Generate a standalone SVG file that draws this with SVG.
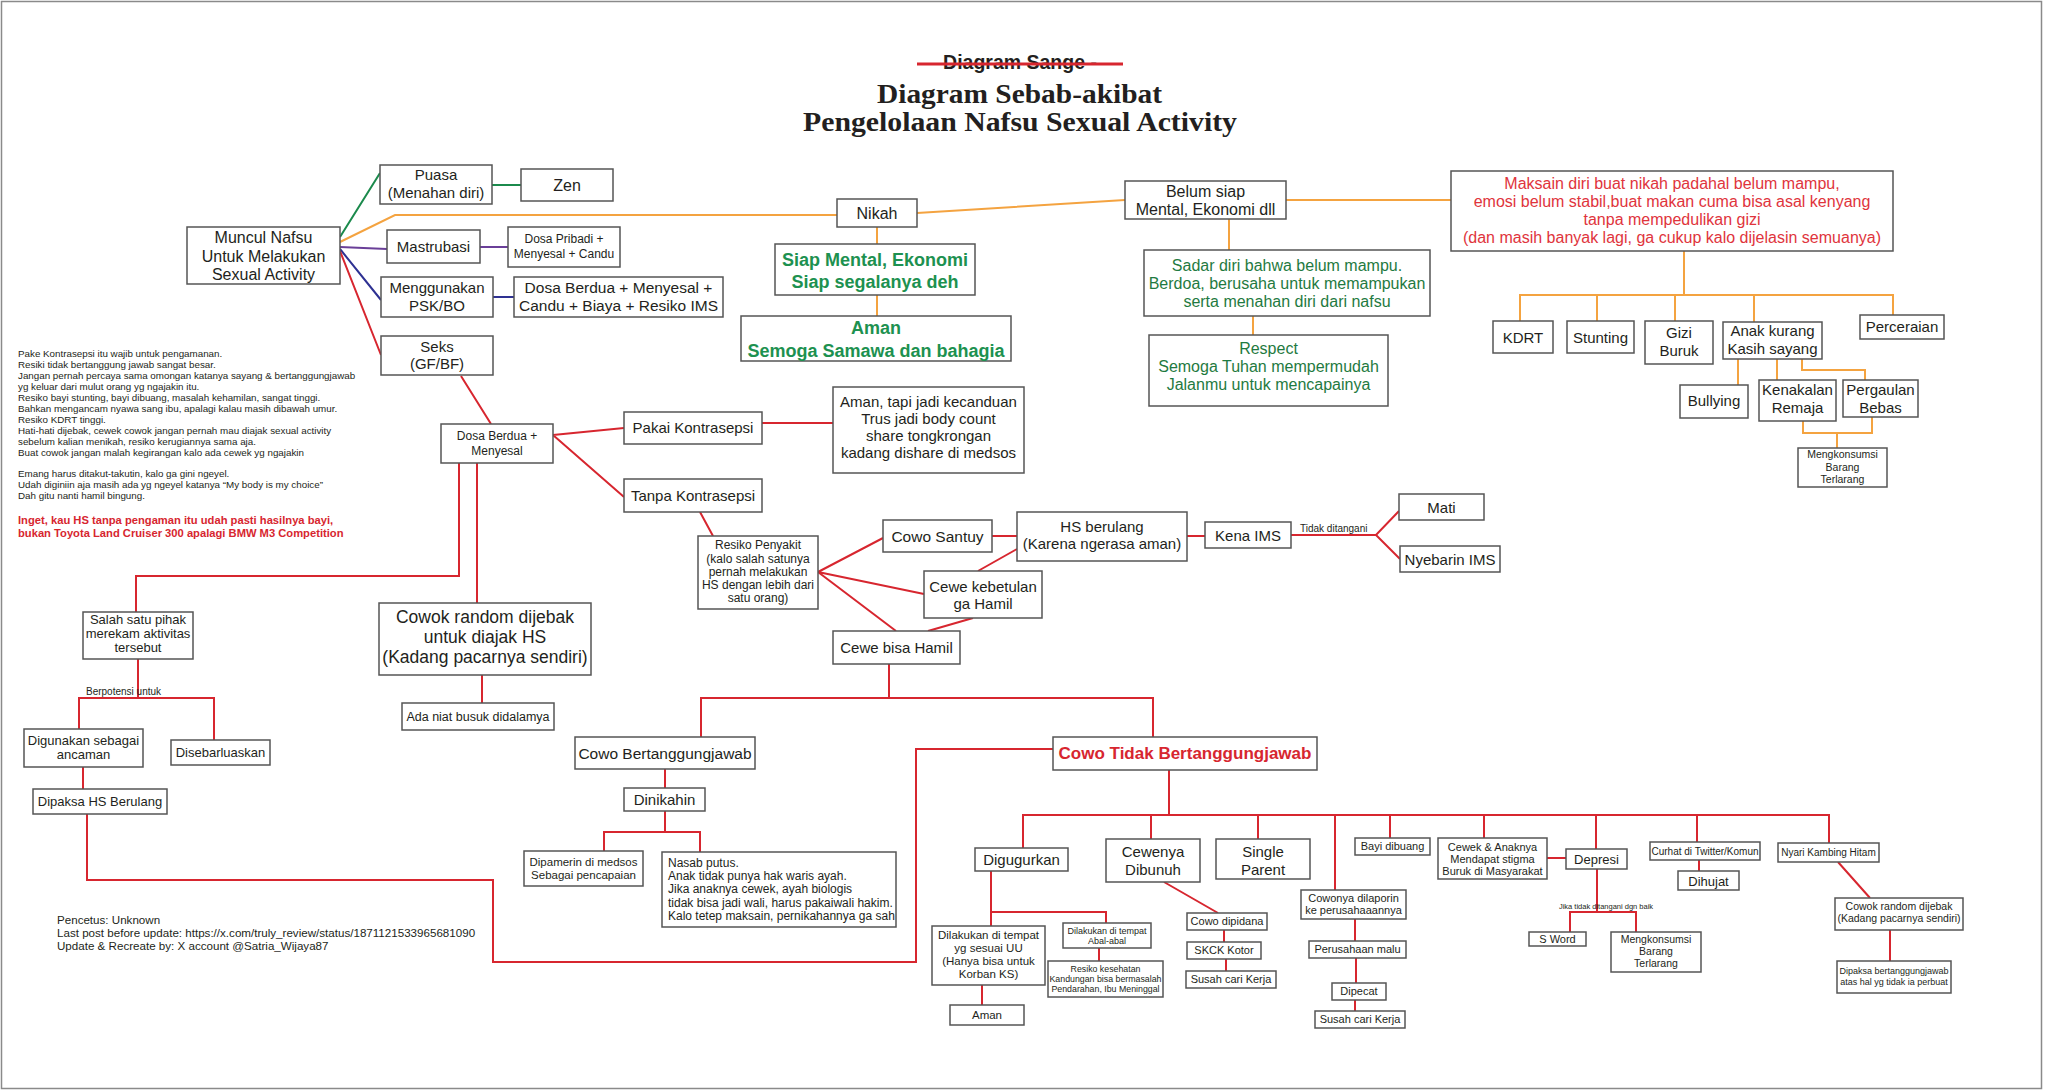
<svg xmlns="http://www.w3.org/2000/svg" width="2048" height="1091" viewBox="0 0 2048 1091">
<style>
text{font-family:"Liberation Sans",Arial,sans-serif;fill:#231f20}
.c{text-anchor:middle}
.b rect,rect.b{fill:#fff;stroke:#555;stroke-width:1.5}
.f16{font-size:16px}.f15{font-size:15px}.f155{font-size:15.5px}.f175{font-size:17.5px}
.f13{font-size:13px}.f125{font-size:12.5px}.f12{font-size:12px}.f115{font-size:11.5px}.f11{font-size:11px}
.f105{font-size:10.5px}.f10{font-size:10px}.f9{font-size:9px}.f88{font-size:8.8px}.f75{font-size:7.5px}
.gb{font-weight:bold;fill:#1d9150;font-size:18px}
.gr{fill:#1f7a41;font-size:16px}
.rd{fill:#e0343c;font-size:16px}
.rb{font-weight:bold;fill:#d7262f}
.con path{fill:none;stroke-width:2}
.o{stroke:#f4a340}.r{stroke:#d7262f}.g{stroke:#1b8a4c}.p{stroke:#6a3f98}.n{stroke:#2e3192}
</style>
<rect x="1.5" y="1.5" width="2040" height="1087" fill="#fff" stroke="#8a8a8a" stroke-width="1.5"/>

<g id="title">
<text class="c" x="1020" y="69" style="font-weight:bold;font-size:19.5px">Diagram Sange -</text>
<line x1="917" y1="64" x2="1123" y2="64" stroke="#d7262f" stroke-width="3"/>
<text x="877" y="103" textLength="285" lengthAdjust="spacingAndGlyphs" style="font-family:'Liberation Serif',serif;font-weight:bold;font-size:27px">Diagram Sebab-akibat</text>
<text x="803" y="131" textLength="434" lengthAdjust="spacingAndGlyphs" style="font-family:'Liberation Serif',serif;font-weight:bold;font-size:27px">Pengelolaan Nafsu Sexual Activity</text>
</g>

<g class="con" id="connectors">
<path class="g" d="M340,237 L380,173 M492,185 H521"/>
<path class="o" d="M340,242 L395,215 H837 M917,213 L1125,200 M877,227 V244 M877,295 V316 M1229,219 V250 M1253,316 V335 M1286,200 H1451 M1684,251 V295 M1520,321 V295 H1893 V315 M1597,295 V321 M1675,295 V321 M1754,295 V322 M1738,359 V385 M1777,359 V380 M1802,359 V370 H1865 V380 M1803,421 V433 H1872 V417 M1837,433 V448"/>
<path class="p" d="M340,247 L387,249 M480,247 H508"/>
<path class="n" d="M340,249 L381,300 M493,297 H514"/>
<path class="r" d="M340,251 L381,355 M461,376 L491,424 M553,435 L624,428 M762,423 H833 M553,435 L624,497 M700,512 L713,536 M818,572 L883,538 M818,572 L924,594 M818,572 L896,631 M992,536 H1017 M978,571 L1017,549 M973,618 L928,631 M1187,536 H1205 M1291,535 H1376 L1399,511 M1376,535 L1400,559 M889,664 V698 M701,737 V698 H1153 V737 M665,769 V788 M665,811 V832 M604,851 V832 H700 V852 M459,463 V576 H136 V612 M477,463 V603 M482,675 V703 M138,659 V698 M79,729 V698 H214 V740 M83,767 V789 M87,814 V880 H493 V962 H916 V749 H1053 M1169,770 V815 M1023,848 V815 H1829 V843 M1151,815 V839 M1258,815 V839 M1335,815 V890 M1390,815 V838 M1484,815 V838 M1596,815 V849 M1697,815 V842 M991,871 V926 M991,912 H1106 V923 M982,985 V1005 M1099,948 V961 M1164,882 L1218,913 M1224,930 V942 M1226,959 V971 M1355,919 V941 M1356,958 V983 M1355,1000 V1011 M1547,858 H1566 M1597,869 V912 M1570,932 V912 H1636 V932 M1699,860 V871 M1838,862 L1870,898 M1890,930 V961"/>
</g>

<g id="labels">
<text class="f10" x="1300" y="532">Tidak ditangani</text>
<text class="f10" x="86" y="695">Berpotensi untuk</text>
<text class="f75 c" x="1606" y="909">Jika tidak ditangani dgn baik</text>
</g>

<g id="notes" style="font-size:9.8px">
<text x="18" y="357"><tspan x="18">Pake Kontrasepsi itu wajib untuk pengamanan.</tspan><tspan x="18" dy="11">Resiki tidak bertanggung jawab sangat besar.</tspan><tspan x="18" dy="11">Jangan pernah percaya sama omongan katanya sayang &amp; bertanggungjawab</tspan><tspan x="18" dy="11">yg keluar dari mulut orang yg ngajakin itu.</tspan><tspan x="18" dy="11">Resiko bayi stunting, bayi dibuang, masalah kehamilan, sangat tinggi.</tspan><tspan x="18" dy="11">Bahkan mengancam nyawa sang ibu, apalagi kalau masih dibawah umur.</tspan><tspan x="18" dy="11">Resiko KDRT tinggi.</tspan><tspan x="18" dy="11">Hati-hati dijebak, cewek cowok jangan pernah mau diajak sexual activity</tspan><tspan x="18" dy="11">sebelum kalian menikah, resiko kerugiannya sama aja.</tspan><tspan x="18" dy="11">Buat cowok jangan malah kegirangan kalo ada cewek yg ngajakin</tspan><tspan x="18" dy="21">Emang harus ditakut-takutin, kalo ga gini ngeyel.</tspan><tspan x="18" dy="11">Udah diginiin aja masih ada yg ngeyel katanya “My body is my choice”</tspan><tspan x="18" dy="11">Dah gitu nanti hamil bingung.</tspan></text>
<text class="rb" x="18" y="524" style="font-size:11.2px"><tspan x="18">Inget, kau HS tanpa pengaman itu udah pasti hasilnya bayi,</tspan><tspan x="18" dy="13">bukan Toyota Land Cruiser 300 apalagi BMW M3 Competition</tspan></text>
</g>

<g id="footer" style="font-size:11.6px">
<text x="57" y="924">Pencetus: Unknown</text>
<text x="57" y="937">Last post before update: https://x.com/truly_review/status/1871121533965681090</text>
<text x="57" y="950">Update &amp; Recreate by: X account @Satria_Wijaya87</text>
</g>

<g id="muncul" class="b"><rect x="187" y="227" width="153" height="57"/><text class="c f16" x="263.5" y="243">Muncul Nafsu<tspan x="263.5" y="262">Untuk Melakukan</tspan><tspan x="263.5" y="280">Sexual Activity</tspan></text></g>
<g id="puasa" class="b"><rect x="380" y="165" width="112" height="39"/><text class="c f15" x="436" y="180">Puasa<tspan x="436" y="198">(Menahan diri)</tspan></text></g>
<g id="zen" class="b"><rect x="521" y="169" width="92" height="32"/><text class="c f16" x="567" y="191">Zen</text></g>
<g id="mastrubasi" class="b"><rect x="387" y="230" width="93" height="33"/><text class="c f15" x="433.5" y="252">Mastrubasi</text></g>
<g id="dosa-pribadi" class="b"><rect x="508" y="227" width="112" height="40"/><text class="c f12" x="564" y="243">Dosa Pribadi +<tspan x="564" y="258">Menyesal + Candu</tspan></text></g>
<g id="psk" class="b"><rect x="381" y="277" width="112" height="40"/><text class="c f15" x="437" y="293">Menggunakan<tspan x="437" y="311">PSK/BO</tspan></text></g>
<g id="dosa-berdua-ims" class="b"><rect x="514" y="277" width="209" height="40"/><text class="c f155" x="618.5" y="293">Dosa Berdua + Menyesal +<tspan x="618.5" y="311">Candu + Biaya + Resiko IMS</tspan></text></g>
<g id="seks" class="b"><rect x="381" y="336" width="112" height="39"/><text class="c f15" x="437" y="352">Seks<tspan x="437" y="369">(GF/BF)</tspan></text></g>

<g id="nikah" class="b"><rect x="837" y="199" width="80" height="28"/><text class="c f16" x="877" y="219">Nikah</text></g>
<g id="siap" class="b"><rect x="775" y="244" width="200" height="51"/><text class="c gb" x="875" y="266">Siap Mental, Ekonomi<tspan x="875" y="288">Siap segalanya deh</tspan></text></g>
<g id="aman-samawa" class="b"><rect x="741" y="316" width="270" height="45"/><text class="c gb" x="876" y="334">Aman<tspan x="876" y="357">Semoga Samawa dan bahagia</tspan></text></g>
<g id="belum-siap" class="b"><rect x="1125" y="181" width="161" height="38"/><text class="c f16" x="1205.5" y="197">Belum siap<tspan x="1205.5" y="215">Mental, Ekonomi dll</tspan></text></g>
<g id="sadar" class="b"><rect x="1144" y="250" width="286" height="66"/><text class="c gr" x="1287" y="271">Sadar diri bahwa belum mampu.<tspan x="1287" y="289">Berdoa, berusaha untuk memampukan</tspan><tspan x="1287" y="307">serta menahan diri dari nafsu</tspan></text></g>
<g id="respect" class="b"><rect x="1149" y="335" width="239" height="71"/><text class="c gr" x="1268.5" y="354">Respect<tspan x="1268.5" y="372">Semoga Tuhan mempermudah</tspan><tspan x="1268.5" y="390">Jalanmu untuk mencapainya</tspan></text></g>
<g id="maksain" class="b"><rect x="1451" y="171" width="442" height="80"/><text class="c rd" x="1672" y="189">Maksain diri buat nikah padahal belum mampu,<tspan x="1672" y="207">emosi belum stabil,buat makan cuma bisa asal kenyang</tspan><tspan x="1672" y="225">tanpa mempedulikan gizi</tspan><tspan x="1672" y="243">(dan masih banyak lagi, ga cukup kalo dijelasin semuanya)</tspan></text></g>
<g id="kdrt" class="b"><rect x="1493" y="321" width="60" height="32"/><text class="c f15" x="1523" y="343">KDRT</text></g>
<g id="stunting" class="b"><rect x="1567" y="321" width="67" height="32"/><text class="c f15" x="1600.5" y="343">Stunting</text></g>
<g id="gizi" class="b"><rect x="1645" y="321" width="68" height="43"/><text class="c f15" x="1679" y="338">Gizi<tspan x="1679" y="356">Buruk</tspan></text></g>
<g id="anak" class="b"><rect x="1723" y="322" width="99" height="37"/><text class="c f15" x="1772.5" y="336">Anak kurang<tspan x="1772.5" y="354">Kasih sayang</tspan></text></g>
<g id="perceraian" class="b"><rect x="1860" y="315" width="84" height="24"/><text class="c f15" x="1902" y="332">Perceraian</text></g>
<g id="bullying" class="b"><rect x="1680" y="385" width="68" height="33"/><text class="c f15" x="1714" y="406">Bullying</text></g>
<g id="kenakalan" class="b"><rect x="1759" y="380" width="77" height="41"/><text class="c f15" x="1797.5" y="395">Kenakalan<tspan x="1797.5" y="413">Remaja</tspan></text></g>
<g id="pergaulan" class="b"><rect x="1843" y="380" width="75" height="37"/><text class="c f15" x="1880.5" y="395">Pergaulan<tspan x="1880.5" y="413">Bebas</tspan></text></g>
<g id="mengkonsumsi-1" class="b"><rect x="1798" y="448" width="89" height="39"/><text class="c f105" x="1842.5" y="458">Mengkonsumsi<tspan x="1842.5" y="471">Barang</tspan><tspan x="1842.5" y="483">Terlarang</tspan></text></g>

<g id="dosa-berdua" class="b"><rect x="441" y="424" width="112" height="39"/><text class="c f12" x="497" y="440">Dosa Berdua +<tspan x="497" y="455">Menyesal</tspan></text></g>
<g id="pakai" class="b"><rect x="624" y="412" width="138" height="32"/><text class="c f15" x="693" y="433">Pakai Kontrasepsi</text></g>
<g id="aman-tapi" class="b"><rect x="833" y="387" width="191" height="86"/><text class="c f15" x="928.5" y="407">Aman, tapi jadi kecanduan<tspan x="928.5" y="424">Trus jadi body count</tspan><tspan x="928.5" y="441">share tongkrongan</tspan><tspan x="928.5" y="458">kadang dishare di medsos</tspan></text></g>
<g id="tanpa" class="b"><rect x="624" y="479" width="138" height="33"/><text class="c f15" x="693" y="501">Tanpa Kontrasepsi</text></g>
<g id="resiko" class="b"><rect x="698" y="536" width="120" height="73"/><text class="c f12" x="758" y="549">Resiko Penyakit<tspan x="758" y="562.5">(kalo salah satunya</tspan><tspan x="758" y="576">pernah melakukan</tspan><tspan x="758" y="589">HS dengan lebih dari</tspan><tspan x="758" y="602">satu orang)</tspan></text></g>
<g id="santuy" class="b"><rect x="883" y="520" width="109" height="32"/><text class="c f155" x="937.5" y="542">Cowo Santuy</text></g>
<g id="hs-berulang" class="b"><rect x="1017" y="512" width="170" height="49"/><text class="c f15" x="1102" y="532">HS berulang<tspan x="1102" y="549">(Karena ngerasa aman)</tspan></text></g>
<g id="kebetulan" class="b"><rect x="924" y="571" width="118" height="47"/><text class="c f15" x="983" y="592">Cewe kebetulan<tspan x="983" y="609">ga Hamil</tspan></text></g>
<g id="bisa-hamil" class="b"><rect x="833" y="631" width="127" height="33"/><text class="c f15" x="896.5" y="653">Cewe bisa Hamil</text></g>
<g id="kena-ims" class="b"><rect x="1205" y="522" width="86" height="26"/><text class="c f15" x="1248" y="541">Kena IMS</text></g>
<g id="mati" class="b"><rect x="1399" y="494" width="85" height="26"/><text class="c f15" x="1441.5" y="513">Mati</text></g>
<g id="nyebarin" class="b"><rect x="1400" y="546" width="100" height="26"/><text class="c f15" x="1450" y="565">Nyebarin IMS</text></g>

<g id="salah-satu" class="b"><rect x="83" y="612" width="110" height="47"/><text class="c f13" x="138" y="624">Salah satu pihak<tspan x="138" y="638">merekam aktivitas</tspan><tspan x="138" y="652">tersebut</tspan></text></g>
<g id="digunakan" class="b"><rect x="24" y="729" width="119" height="38"/><text class="c f13" x="83.5" y="745">Digunakan sebagai<tspan x="83.5" y="759">ancaman</tspan></text></g>
<g id="disebar" class="b"><rect x="171" y="740" width="99" height="25"/><text class="c f13" x="220.5" y="757">Disebarluaskan</text></g>
<g id="dipaksa-hs" class="b"><rect x="33" y="789" width="134" height="25"/><text class="c f13" x="100" y="806">Dipaksa HS Berulang</text></g>
<g id="cowok-random" class="b"><rect x="379" y="603" width="212" height="72"/><text class="c f175" x="485" y="623">Cowok random dijebak<tspan x="485" y="643">untuk diajak HS</tspan><tspan x="485" y="663">(Kadang pacarnya sendiri)</tspan></text></g>
<g id="ada-niat" class="b"><rect x="402" y="703" width="152" height="27"/><text class="c f125" x="478" y="721">Ada niat busuk didalamya</text></g>

<g id="cowo-btj" class="b"><rect x="575" y="737" width="180" height="32"/><text class="c f155" x="665" y="759">Cowo Bertanggungjawab</text></g>
<g id="dinikahin" class="b"><rect x="624" y="788" width="81" height="23"/><text class="c f15" x="664.5" y="805">Dinikahin</text></g>
<g id="dipamerin" class="b"><rect x="524" y="851" width="119" height="35"/><text class="c f115" x="583.5" y="866">Dipamerin di medsos<tspan x="583.5" y="879">Sebagai pencapaian</tspan></text></g>
<g id="nasab" class="b"><rect x="662" y="852" width="234" height="75"/><text class="f12" x="668" y="867">Nasab putus.<tspan x="668" y="880">Anak tidak punya hak waris ayah.</tspan><tspan x="668" y="893">Jika anaknya cewek, ayah biologis</tspan><tspan x="668" y="907">tidak bisa jadi wali, harus pakaiwali hakim.</tspan><tspan x="668" y="920">Kalo tetep maksain, pernikahannya ga sah</tspan></text></g>

<g id="cowo-tidak" class="b"><rect x="1053" y="737" width="264" height="33"/><text class="c rb" x="1185" y="759" style="font-size:17px">Cowo Tidak Bertanggungjawab</text></g>
<g id="digugurkan" class="b"><rect x="975" y="848" width="93" height="23"/><text class="c f15" x="1021.5" y="865">Digugurkan</text></g>
<g id="cewenya" class="b"><rect x="1106" y="839" width="94" height="43"/><text class="c f15" x="1153" y="857">Cewenya<tspan x="1153" y="875">Dibunuh</tspan></text></g>
<g id="single" class="b"><rect x="1216" y="839" width="94" height="40"/><text class="c f15" x="1263" y="857">Single<tspan x="1263" y="875">Parent</tspan></text></g>
<g id="bayi" class="b"><rect x="1355" y="838" width="75" height="17"/><text class="c f11" x="1392.5" y="850">Bayi dibuang</text></g>
<g id="cowonya" class="b"><rect x="1301" y="890" width="105" height="29"/><text class="c f11" x="1353.5" y="902">Cowonya dilaporin<tspan x="1353.5" y="914">ke perusahaaannya</tspan></text></g>
<g id="cewek-anak" class="b"><rect x="1438" y="838" width="109" height="41"/><text class="c f11" x="1492.5" y="851">Cewek &amp; Anaknya<tspan x="1492.5" y="863">Mendapat stigma</tspan><tspan x="1492.5" y="875">Buruk di Masyarakat</tspan></text></g>
<g id="depresi" class="b"><rect x="1566" y="849" width="61" height="20"/><text class="c f13" x="1596.5" y="864">Depresi</text></g>
<g id="curhat" class="b"><rect x="1650" y="842" width="110" height="18"/><text class="c f10" x="1705" y="855">Curhat di Twitter/Komun</text></g>
<g id="dihujat" class="b"><rect x="1678" y="871" width="61" height="19"/><text class="c f13" x="1708.5" y="886">Dihujat</text></g>
<g id="nyari" class="b"><rect x="1778" y="843" width="101" height="19"/><text class="c f10" x="1828.5" y="856">Nyari Kambing Hitam</text></g>
<g id="cowok-random-2" class="b"><rect x="1835" y="898" width="128" height="32"/><text class="c f105" x="1899" y="910">Cowok random dijebak<tspan x="1899" y="922">(Kadang pacarnya sendiri)</tspan></text></g>
<g id="dipaksa-btj" class="b"><rect x="1837" y="961" width="114" height="32"/><text class="c f9" x="1894" y="974">Dipaksa bertanggungjawab<tspan x="1894" y="985">atas hal yg tidak ia perbuat</tspan></text></g>
<g id="s-word" class="b"><rect x="1529" y="932" width="57" height="14"/><text class="c f11" x="1557.5" y="943">S Word</text></g>
<g id="mengkonsumsi-2" class="b"><rect x="1611" y="932" width="90" height="40"/><text class="c f105" x="1656" y="943">Mengkonsumsi<tspan x="1656" y="955">Barang</tspan><tspan x="1656" y="967">Terlarang</tspan></text></g>
<g id="dilakukan-uu" class="b"><rect x="932" y="926" width="113" height="59"/><text class="c f115" x="988.5" y="939">Dilakukan di tempat<tspan x="988.5" y="952">yg sesuai UU</tspan><tspan x="988.5" y="965">(Hanya bisa untuk</tspan><tspan x="988.5" y="978">Korban KS)</tspan></text></g>
<g id="aman-uu" class="b"><rect x="950" y="1005" width="74" height="20"/><text class="c f115" x="987" y="1019">Aman</text></g>
<g id="abal" class="b"><rect x="1063" y="923" width="88" height="25"/><text class="c f9" x="1107" y="934">Dilakukan di tempat<tspan x="1107" y="944">Abal-abal</tspan></text></g>
<g id="resiko-kes" class="b"><rect x="1048" y="961" width="115" height="36"/><text class="c f88" x="1105.5" y="972">Resiko kesehatan<tspan x="1105.5" y="982">Kandungan bisa bermasalah</tspan><tspan x="1105.5" y="992">Pendarahan, Ibu Meninggal</tspan></text></g>
<g id="dipidana" class="b"><rect x="1187" y="913" width="80" height="17"/><text class="c f11" x="1227" y="925">Cowo dipidana</text></g>
<g id="skck" class="b"><rect x="1187" y="942" width="74" height="17"/><text class="c f11" x="1224" y="954">SKCK Kotor</text></g>
<g id="susah-1" class="b"><rect x="1186" y="971" width="90" height="17"/><text class="c f11" x="1231" y="983">Susah cari Kerja</text></g>
<g id="perusahaan" class="b"><rect x="1309" y="941" width="97" height="17"/><text class="c f11" x="1357.5" y="953">Perusahaan malu</text></g>
<g id="dipecat" class="b"><rect x="1332" y="983" width="54" height="17"/><text class="c f11" x="1359" y="995">Dipecat</text></g>
<g id="susah-2" class="b"><rect x="1315" y="1011" width="90" height="17"/><text class="c f11" x="1360" y="1023">Susah cari Kerja</text></g>
</svg>
